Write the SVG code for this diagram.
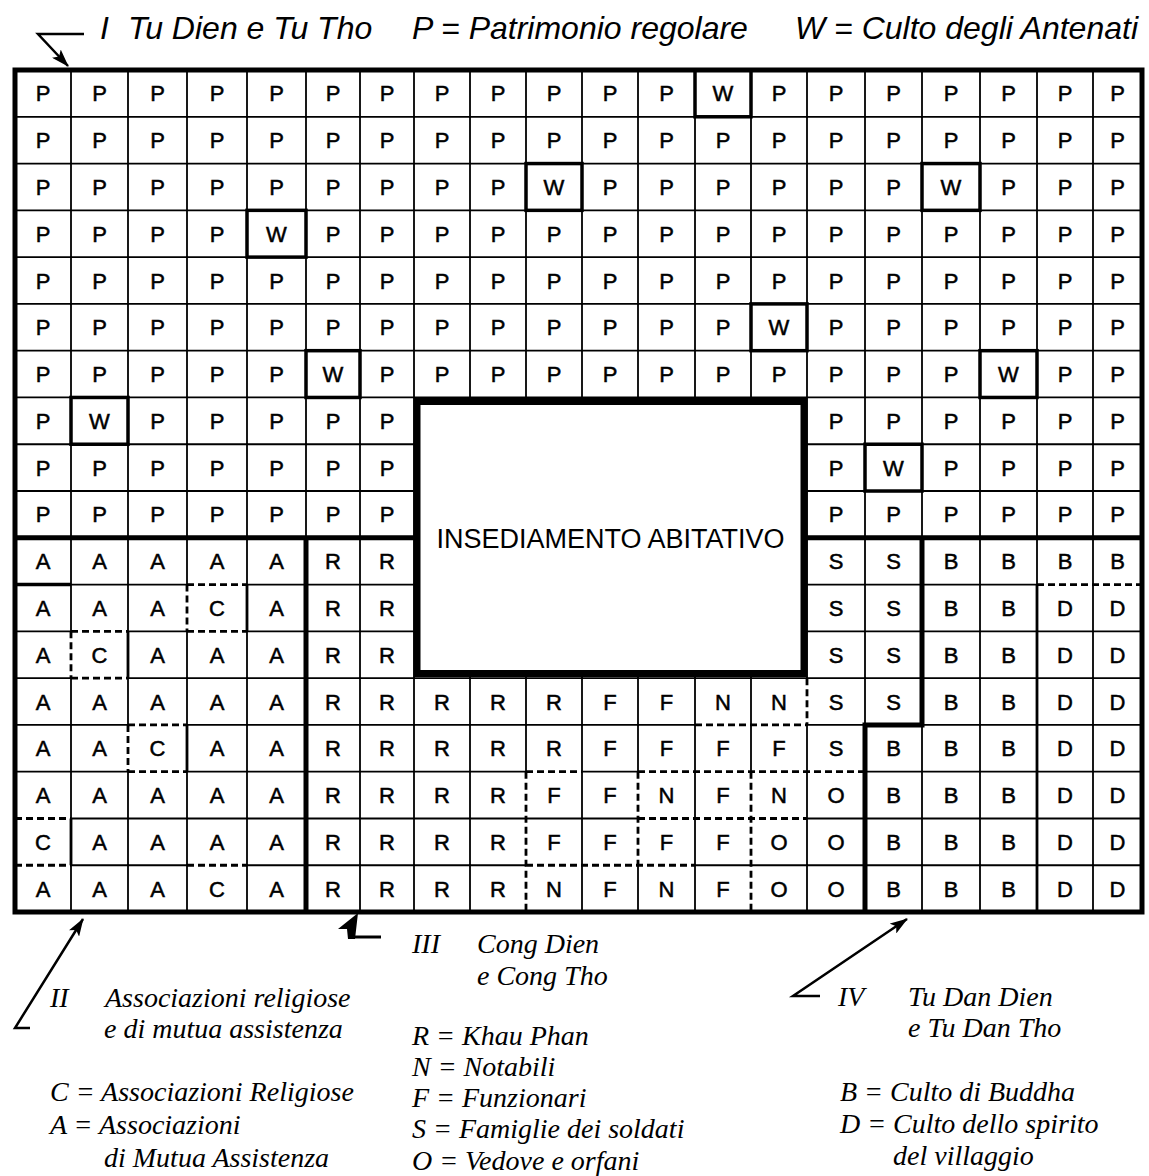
<svg xmlns="http://www.w3.org/2000/svg" width="1149" height="1176" viewBox="0 0 1149 1176">
<defs>
<style>
.c{font-family:"Liberation Sans",Arial,sans-serif;font-size:22px;text-anchor:middle;fill:#000;stroke:#000;stroke-width:0.5}
.t{font-family:"Liberation Sans",Arial,sans-serif;font-style:italic;font-size:32px;fill:#000}
.s{font-family:"Liberation Serif","Times New Roman",serif;font-style:italic;font-size:28px;fill:#000}
.h{font-family:"Liberation Sans",Arial,sans-serif;font-size:27px;text-anchor:middle;fill:#000}
.thin{stroke:#000;stroke-width:1.8;fill:none}
.med{stroke:#000;stroke-width:2.8;fill:none}
.thick{stroke:#000;stroke-width:5;fill:none}
.dash{stroke:#000;stroke-width:2.8;stroke-dasharray:7 4;fill:none}
.w{stroke:#000;stroke-width:3.5;fill:none}
.arr{stroke:#000;stroke-width:2.5;fill:none}
</style>
<marker id="ah" markerWidth="18" markerHeight="12" refX="17" refY="6" orient="auto" markerUnits="userSpaceOnUse">
<path d="M0,0 L18,6 L0,12 L4,6 z" fill="#000"/>
</marker>
</defs>
<rect width="1149" height="1176" fill="#fff"/>

<g id="grid">
<path class="thin" d="M15,116.78H1142 M15,163.56H1142 M15,210.34H1142 M15,257.12H1142 M15,303.9H1142 M15,350.68H1142 M15,397.46H1142 M15,444.24H1142 M15,491.02H1142
M71,584.58H187 M247,584.58H1037
M15,631.36H71 M128,631.36H187 M247,631.36H1142
M15,678.14H71 M128,678.14H1142
M15,724.92H128 M187,724.92H695 M807,724.92H1142
M15,771.7H128 M187,771.7H526 M582,771.7H638 M865,771.7H1142
M71,818.48H638 M807,818.48H1142
M71,865.26H187 M247,865.26H526 M695,865.26H1142
M71,70V631.36 M71,678.14V912
M128,70V724.92 M128,771.7V912
M187,70V584.58 M187,631.36V912
M247,70V912
M306,70V537.8
M360,70V912
M414,70V912
M470,70V912
M526,70V771.7
M582,70V912
M638,70V771.7 M638,865.26V912
M695,70V912
M751,70V771.7
M807,70V678.14 M807,724.92V912
M865,70V724.92
M922,70V537.8 M922,724.92V912
M980,70V912
M1037,70V584.58
M1093,70V912"/>
<path class="med" d="M1037,584.58V912 M128,631.36V678.14 M247,584.58V631.36 M187,724.92V771.7 M71,818.48V865.26"/>
<path class="dash" d="M187,584.58H247 M1037,584.58H1142 M187,631.36H247 M71,631.36H128 M71,678.14H128 M128,724.92H187 M695,724.92H807 M128,771.7H187 M526,771.7H582 M638,771.7H865 M15,818.48H71 M638,818.48H807 M15,865.26H71 M187,865.26H247 M526,865.26H695
M71,631.36V678.14 M128,724.92V771.7 M187,584.58V631.36 M526,771.7V912 M638,771.7V865.26 M751,771.7V912 M807,678.14V724.92"/>
<path class="w" d="M15,584.58H71"/>
<path class="thick" d="M15,537.8H414 M807,537.8H1142 M306,537.8V912 M922,537.8V724.92H865V912"/>
<g class="w">
<rect x="695" y="70" width="56" height="46.78"/>
<rect x="526" y="163.56" width="56" height="46.78"/>
<rect x="922" y="163.56" width="58" height="46.78"/>
<rect x="247" y="210.34" width="59" height="46.78"/>
<rect x="751" y="303.9" width="56" height="46.78"/>
<rect x="306" y="350.68" width="54" height="46.78"/>
<rect x="980" y="350.68" width="57" height="46.78"/>
<rect x="71" y="397.46" width="57" height="46.78"/>
<rect x="865" y="444.24" width="57" height="46.78"/>
</g>
<rect class="thick" x="15" y="70" width="1127" height="842"/>
</g>

<g id="insediamento">
<rect x="417" y="401.5" width="387" height="272" fill="#fff" stroke="#000" stroke-width="7"/>
<text class="h" x="610.5" y="548">INSEDIAMENTO ABITATIVO</text>
</g>

<g id="region-I" class="c">
<g transform="translate(0,101.4)"><text x="43">P</text><text x="99.5">P</text><text x="157.5">P</text><text x="217">P</text><text x="276.5">P</text><text x="333">P</text><text x="387">P</text><text x="442">P</text><text x="498">P</text><text x="554">P</text><text x="610">P</text><text x="666.5">P</text><text x="723">W</text><text x="779">P</text><text x="836">P</text><text x="893.5">P</text><text x="951">P</text><text x="1008.5">P</text><text x="1065">P</text><text x="1117.5">P</text></g>
<g transform="translate(0,148.2)"><text x="43">P</text><text x="99.5">P</text><text x="157.5">P</text><text x="217">P</text><text x="276.5">P</text><text x="333">P</text><text x="387">P</text><text x="442">P</text><text x="498">P</text><text x="554">P</text><text x="610">P</text><text x="666.5">P</text><text x="723">P</text><text x="779">P</text><text x="836">P</text><text x="893.5">P</text><text x="951">P</text><text x="1008.5">P</text><text x="1065">P</text><text x="1117.5">P</text></g>
<g transform="translate(0,195)"><text x="43">P</text><text x="99.5">P</text><text x="157.5">P</text><text x="217">P</text><text x="276.5">P</text><text x="333">P</text><text x="387">P</text><text x="442">P</text><text x="498">P</text><text x="554">W</text><text x="610">P</text><text x="666.5">P</text><text x="723">P</text><text x="779">P</text><text x="836">P</text><text x="893.5">P</text><text x="951">W</text><text x="1008.5">P</text><text x="1065">P</text><text x="1117.5">P</text></g>
<g transform="translate(0,241.7)"><text x="43">P</text><text x="99.5">P</text><text x="157.5">P</text><text x="217">P</text><text x="276.5">W</text><text x="333">P</text><text x="387">P</text><text x="442">P</text><text x="498">P</text><text x="554">P</text><text x="610">P</text><text x="666.5">P</text><text x="723">P</text><text x="779">P</text><text x="836">P</text><text x="893.5">P</text><text x="951">P</text><text x="1008.5">P</text><text x="1065">P</text><text x="1117.5">P</text></g>
<g transform="translate(0,288.5)"><text x="43">P</text><text x="99.5">P</text><text x="157.5">P</text><text x="217">P</text><text x="276.5">P</text><text x="333">P</text><text x="387">P</text><text x="442">P</text><text x="498">P</text><text x="554">P</text><text x="610">P</text><text x="666.5">P</text><text x="723">P</text><text x="779">P</text><text x="836">P</text><text x="893.5">P</text><text x="951">P</text><text x="1008.5">P</text><text x="1065">P</text><text x="1117.5">P</text></g>
<g transform="translate(0,335.3)"><text x="43">P</text><text x="99.5">P</text><text x="157.5">P</text><text x="217">P</text><text x="276.5">P</text><text x="333">P</text><text x="387">P</text><text x="442">P</text><text x="498">P</text><text x="554">P</text><text x="610">P</text><text x="666.5">P</text><text x="723">P</text><text x="779">W</text><text x="836">P</text><text x="893.5">P</text><text x="951">P</text><text x="1008.5">P</text><text x="1065">P</text><text x="1117.5">P</text></g>
<g transform="translate(0,382.1)"><text x="43">P</text><text x="99.5">P</text><text x="157.5">P</text><text x="217">P</text><text x="276.5">P</text><text x="333">W</text><text x="387">P</text><text x="442">P</text><text x="498">P</text><text x="554">P</text><text x="610">P</text><text x="666.5">P</text><text x="723">P</text><text x="779">P</text><text x="836">P</text><text x="893.5">P</text><text x="951">P</text><text x="1008.5">W</text><text x="1065">P</text><text x="1117.5">P</text></g>
<g transform="translate(0,428.9)"><text x="43">P</text><text x="99.5">W</text><text x="157.5">P</text><text x="217">P</text><text x="276.5">P</text><text x="333">P</text><text x="387">P</text><text x="836">P</text><text x="893.5">P</text><text x="951">P</text><text x="1008.5">P</text><text x="1065">P</text><text x="1117.5">P</text></g>
<g transform="translate(0,475.6)"><text x="43">P</text><text x="99.5">P</text><text x="157.5">P</text><text x="217">P</text><text x="276.5">P</text><text x="333">P</text><text x="387">P</text><text x="836">P</text><text x="893.5">W</text><text x="951">P</text><text x="1008.5">P</text><text x="1065">P</text><text x="1117.5">P</text></g>
<g transform="translate(0,522.4)"><text x="43">P</text><text x="99.5">P</text><text x="157.5">P</text><text x="217">P</text><text x="276.5">P</text><text x="333">P</text><text x="387">P</text><text x="836">P</text><text x="893.5">P</text><text x="951">P</text><text x="1008.5">P</text><text x="1065">P</text><text x="1117.5">P</text></g>
</g>

<g id="region-II" class="c">
<g transform="translate(0,569.2)"><text x="43">A</text><text x="99.5">A</text><text x="157.5">A</text><text x="217">A</text><text x="276.5">A</text></g>
<g transform="translate(0,616)"><text x="43">A</text><text x="99.5">A</text><text x="157.5">A</text><text x="217">C</text><text x="276.5">A</text></g>
<g transform="translate(0,662.8)"><text x="43">A</text><text x="99.5">C</text><text x="157.5">A</text><text x="217">A</text><text x="276.5">A</text></g>
<g transform="translate(0,709.5)"><text x="43">A</text><text x="99.5">A</text><text x="157.5">A</text><text x="217">A</text><text x="276.5">A</text></g>
<g transform="translate(0,756.3)"><text x="43">A</text><text x="99.5">A</text><text x="157.5">C</text><text x="217">A</text><text x="276.5">A</text></g>
<g transform="translate(0,803.1)"><text x="43">A</text><text x="99.5">A</text><text x="157.5">A</text><text x="217">A</text><text x="276.5">A</text></g>
<g transform="translate(0,849.9)"><text x="43">C</text><text x="99.5">A</text><text x="157.5">A</text><text x="217">A</text><text x="276.5">A</text></g>
<g transform="translate(0,896.6)"><text x="43">A</text><text x="99.5">A</text><text x="157.5">A</text><text x="217">C</text><text x="276.5">A</text></g>
</g>

<g id="region-III" class="c">
<g transform="translate(0,569.2)"><text x="333">R</text><text x="387">R</text><text x="836">S</text><text x="893.5">S</text></g>
<g transform="translate(0,616)"><text x="333">R</text><text x="387">R</text><text x="836">S</text><text x="893.5">S</text></g>
<g transform="translate(0,662.8)"><text x="333">R</text><text x="387">R</text><text x="836">S</text><text x="893.5">S</text></g>
<g transform="translate(0,709.5)"><text x="333">R</text><text x="387">R</text><text x="442">R</text><text x="498">R</text><text x="554">R</text><text x="610">F</text><text x="666.5">F</text><text x="723">N</text><text x="779">N</text><text x="836">S</text><text x="893.5">S</text></g>
<g transform="translate(0,756.3)"><text x="333">R</text><text x="387">R</text><text x="442">R</text><text x="498">R</text><text x="554">R</text><text x="610">F</text><text x="666.5">F</text><text x="723">F</text><text x="779">F</text><text x="836">S</text></g>
<g transform="translate(0,803.1)"><text x="333">R</text><text x="387">R</text><text x="442">R</text><text x="498">R</text><text x="554">F</text><text x="610">F</text><text x="666.5">N</text><text x="723">F</text><text x="779">N</text><text x="836">O</text></g>
<g transform="translate(0,849.9)"><text x="333">R</text><text x="387">R</text><text x="442">R</text><text x="498">R</text><text x="554">F</text><text x="610">F</text><text x="666.5">F</text><text x="723">F</text><text x="779">O</text><text x="836">O</text></g>
<g transform="translate(0,896.6)"><text x="333">R</text><text x="387">R</text><text x="442">R</text><text x="498">R</text><text x="554">N</text><text x="610">F</text><text x="666.5">N</text><text x="723">F</text><text x="779">O</text><text x="836">O</text></g>
</g>

<g id="region-IV" class="c">
<g transform="translate(0,569.2)"><text x="951">B</text><text x="1008.5">B</text><text x="1065">B</text><text x="1117.5">B</text></g>
<g transform="translate(0,616)"><text x="951">B</text><text x="1008.5">B</text><text x="1065">D</text><text x="1117.5">D</text></g>
<g transform="translate(0,662.8)"><text x="951">B</text><text x="1008.5">B</text><text x="1065">D</text><text x="1117.5">D</text></g>
<g transform="translate(0,709.5)"><text x="951">B</text><text x="1008.5">B</text><text x="1065">D</text><text x="1117.5">D</text></g>
<g transform="translate(0,756.3)"><text x="893.5">B</text><text x="951">B</text><text x="1008.5">B</text><text x="1065">D</text><text x="1117.5">D</text></g>
<g transform="translate(0,803.1)"><text x="893.5">B</text><text x="951">B</text><text x="1008.5">B</text><text x="1065">D</text><text x="1117.5">D</text></g>
<g transform="translate(0,849.9)"><text x="893.5">B</text><text x="951">B</text><text x="1008.5">B</text><text x="1065">D</text><text x="1117.5">D</text></g>
<g transform="translate(0,896.6)"><text x="893.5">B</text><text x="951">B</text><text x="1008.5">B</text><text x="1065">D</text><text x="1117.5">D</text></g>
</g>

<g id="connectors">
<path class="arr" d="M84,34 H38 L68,66" marker-end="url(#ah)"/>
<path class="arr" d="M30,1028 H15 L83,919" marker-end="url(#ah)"/>
<path class="arr" d="M381,937 H350" style="stroke-width:3"/>
<path d="M358,913 L338,929 L347,929 L348,939 L355,939 Z" fill="#000"/>
<path class="arr" d="M820,996 H793 L907,919" marker-end="url(#ah)"/>
</g>

<g id="label-I">
<text class="t" x="100" y="39">I</text>
<text class="t" x="128" y="39">Tu Dien e Tu Tho</text>
<text class="t" x="412" y="39">P = Patrimonio regolare</text>
<text class="t" x="795" y="39">W = Culto degli Antenati</text>
</g>

<g id="label-II">
<text class="s" x="50" y="1007">II</text>
<text class="s" x="105" y="1007">Associazioni religiose</text>
<text class="s" x="104" y="1038">e di mutua assistenza</text>
<text class="s" x="50" y="1101">C = Associazioni Religiose</text>
<text class="s" x="50" y="1134">A = Associazioni</text>
<text class="s" x="104" y="1167">di Mutua Assistenza</text>
</g>

<g id="label-III">
<text class="s" x="412" y="953">III</text>
<text class="s" x="477" y="953">Cong Dien</text>
<text class="s" x="477" y="985">e Cong Tho</text>
<text class="s" x="412" y="1045">R = Khau Phan</text>
<text class="s" x="412" y="1076">N = Notabili</text>
<text class="s" x="412" y="1107">F = Funzionari</text>
<text class="s" x="412" y="1138">S = Famiglie dei soldati</text>
<text class="s" x="412" y="1170">O = Vedove e orfani</text>
</g>

<g id="label-IV">
<text class="s" x="838" y="1006">IV</text>
<text class="s" x="908" y="1006">Tu Dan Dien</text>
<text class="s" x="908" y="1037">e Tu Dan Tho</text>
<text class="s" x="840" y="1101">B = Culto di Buddha</text>
<text class="s" x="840" y="1133">D = Culto dello spirito</text>
<text class="s" x="893" y="1165">del villaggio</text>
</g>
</svg>
